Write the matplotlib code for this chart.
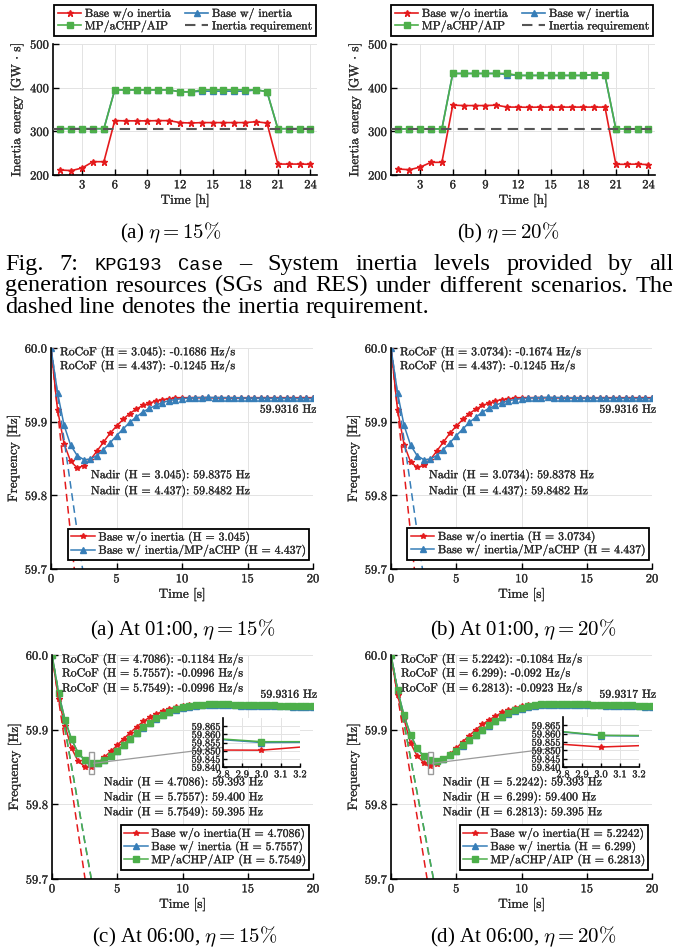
import numpy as np
import matplotlib
matplotlib.use("Agg")
import matplotlib.pyplot as plt
import matplotlib.patheffects as pe
from matplotlib.text import Text
from matplotlib.patches import Rectangle, ConnectionPatch

plt.rcParams.update({
    "font.family": ["cmr10", "DejaVu Serif"],
    "mathtext.fontset": "cm",
    "axes.formatter.use_mathtext": True,
    "axes.unicode_minus": False,
})

# ---------------- data: inertia energy (GW*s) per hour ----------------
hours = list(range(1, 25))
inertia15_base_wo = [211.5, 210, 216, 230.5, 230.5, 324.5, 324, 324, 324, 324.5, 324.5, 320,
                     319, 320, 320, 320, 320, 320, 322, 319, 225, 225, 225, 224.5]
inertia15_base_w = [306, 306, 306, 306, 306, 395, 395, 395, 395, 395, 395, 390.5,
                    390.5, 392, 392, 392, 392, 392, 395, 391, 306, 306, 306, 306]
inertia15_mp = [306, 306, 306, 306, 306, 395, 395, 395, 395, 395, 395, 390.5,
                390.5, 395, 395, 395, 395, 395, 395, 391, 306, 306, 306, 306]
inertia20_base_wo = [213.8, 212, 218, 229, 229, 360, 359, 359, 359, 360, 355.5, 355.5,
                     355, 355.5, 355.5, 355.5, 355.5, 355.5, 355.5, 355.5, 224.5, 224.5, 225, 223.7]
inertia20_base_w = [305.5, 305.5, 305.5, 305.5, 305.5, 432.5, 432.5, 432.5, 432.5, 432.5, 430, 428,
                    428, 428, 428, 428, 428, 428, 430, 428, 305.5, 305.5, 305.5, 305.5]
inertia20_mp = [305.5, 305.5, 305.5, 305.5, 305.5, 432.5, 432.5, 432.5, 432.5, 432.5, 432.5, 428,
                428, 428, 428, 428, 428, 428, 430, 428, 305.5, 305.5, 305.5, 305.5]
inertia_req = [305, 305]

# ---------------- data: frequency responses (Hz), sampled every 0.5 s ----------------
t_s = np.arange(0, 20.5, 0.5)

f01_15_red = [60.0, 59.916, 59.870, 59.846, 59.8375, 59.840, 59.848, 59.860, 59.872, 59.884,
              59.894, 59.903, 59.911, 59.917, 59.922, 59.925, 59.928, 59.930, 59.931, 59.9318,
              59.9322, 59.9325, 59.9326, 59.9326, 59.9325, 59.9324, 59.9323, 59.9322, 59.9321, 59.932,
              59.932, 59.9319, 59.9318, 59.9318, 59.9317, 59.9317, 59.9317, 59.9316, 59.9316, 59.9316, 59.9316]
f01_15_blue = [60.0, 59.939, 59.895, 59.868, 59.854, 59.8485, 59.849, 59.854, 59.862, 59.871,
               59.881, 59.890, 59.899, 59.906, 59.913, 59.918, 59.922, 59.926, 59.9285, 59.930,
               59.9312, 59.932, 59.9326, 59.9328, 59.9329, 59.9328, 59.9327, 59.9326, 59.9325, 59.9324,
               59.9322, 59.9321, 59.932, 59.9319, 59.9318, 59.9318, 59.9317, 59.9317, 59.9316, 59.9316, 59.9316]
f01_20_red = [60.0, 59.9165, 59.869, 59.8455, 59.8378, 59.8405, 59.848, 59.860, 59.872, 59.884,
              59.894, 59.903, 59.911, 59.917, 59.922, 59.925, 59.928, 59.930, 59.931, 59.9318,
              59.9322, 59.9325, 59.9326, 59.9326, 59.9325, 59.9324, 59.9323, 59.9322, 59.9321, 59.932,
              59.932, 59.9319, 59.9318, 59.9318, 59.9317, 59.9317, 59.9317, 59.9316, 59.9316, 59.9316, 59.9316]
f01_20_blue = [60.0, 59.939, 59.895, 59.868, 59.854, 59.8485, 59.849, 59.854, 59.862, 59.871,
               59.881, 59.890, 59.899, 59.906, 59.913, 59.918, 59.922, 59.926, 59.9285, 59.930,
               59.9312, 59.932, 59.9326, 59.9328, 59.9329, 59.9328, 59.9327, 59.9326, 59.9325, 59.9324,
               59.9322, 59.9321, 59.932, 59.9319, 59.9318, 59.9318, 59.9317, 59.9317, 59.9316, 59.9316, 59.9316]

f06_15_red = [60.0, 59.941, 59.905, 59.875, 59.858, 59.8505, 59.8503, 59.855, 59.863, 59.871,
              59.879, 59.888, 59.896, 59.904, 59.911, 59.917, 59.921, 59.925, 59.928, 59.930,
              59.9315, 59.9325, 59.933, 59.9333, 59.9334, 59.9334, 59.9333, 59.9332, 59.9331, 59.933,
              59.9328, 59.9327, 59.9325, 59.9324, 59.9322, 59.9321, 59.932, 59.9319, 59.9318, 59.9317, 59.9316]
f06_15_blue = [60.0, 59.949, 59.913, 59.887, 59.869, 59.8593, 59.855, 59.8553, 59.8588, 59.8648,
               59.8718, 59.8798, 59.8878, 59.8955, 59.9025, 59.9085, 59.914, 59.919, 59.923, 59.9268,
               59.9295, 59.931, 59.932, 59.9326, 59.9329, 59.9329, 59.9328, 59.9326, 59.9324, 59.9322,
               59.932, 59.9318, 59.9316, 59.9315, 59.9313, 59.9312, 59.9311, 59.931, 59.9309, 59.9308, 59.9308]
f06_15_green = [60.0, 59.949, 59.913, 59.887, 59.869, 59.8595, 59.8555, 59.8555, 59.859, 59.865,
                59.872, 59.880, 59.888, 59.896, 59.903, 59.909, 59.915, 59.920, 59.924, 59.928,
                59.9305, 59.932, 59.933, 59.9337, 59.934, 59.934, 59.934, 59.9338, 59.9336, 59.9334,
                59.9332, 59.933, 59.9328, 59.9326, 59.9324, 59.9322, 59.932, 59.9319, 59.9318, 59.9317, 59.9316]

f06_20_red = [60.0, 59.946, 59.914, 59.882, 59.865, 59.856, 59.852, 59.854, 59.860, 59.867,
              59.875, 59.884, 59.892, 59.900, 59.907, 59.913, 59.918, 59.923, 59.926, 59.929,
              59.9315, 59.9327, 59.9333, 59.9336, 59.9337, 59.9337, 59.9336, 59.9335, 59.9333, 59.9331,
              59.933, 59.9328, 59.9326, 59.9324, 59.9323, 59.9321, 59.932, 59.9319, 59.9318, 59.9317, 59.9317]
f06_20_blue = [60.0, 59.953, 59.919, 59.893, 59.875, 59.8643, 59.8588, 59.8583, 59.8607, 59.8655,
               59.8715, 59.8785, 59.8855, 59.8925, 59.8995, 59.9055, 59.9113, 59.9163, 59.921, 59.925,
               59.928, 59.9303, 59.932, 59.933, 59.9335, 59.9337, 59.9337, 59.9336, 59.9334, 59.9332,
               59.933, 59.9327, 59.9325, 59.9322, 59.932, 59.9318, 59.9316, 59.9314, 59.9312, 59.931, 59.9309]
f06_20_green = [60.0, 59.953, 59.919, 59.893, 59.875, 59.8645, 59.859, 59.8585, 59.861, 59.866,
                59.872, 59.879, 59.886, 59.893, 59.900, 59.906, 59.912, 59.917, 59.922, 59.926,
                59.929, 59.9315, 59.933, 59.934, 59.9345, 59.9347, 59.9347, 59.9346, 59.9344, 59.9342,
                59.934, 59.9337, 59.9335, 59.9332, 59.933, 59.9328, 59.9326, 59.9324, 59.9322, 59.932, 59.9318]

rocof01_15 = [-0.1686, -0.1245]
rocof01_20 = [-0.1674, -0.1245]
rocof06_15 = [-0.1184, -0.0996, -0.0996]
rocof06_20 = [-0.1084, -0.092, -0.0923]

# ---------------- style ----------------
W, H = 678, 952
fig = plt.figure(figsize=(W / 100, H / 100), dpi=100)
RED, BLUE, GREEN = "#E41A1C", "#377EB8", "#4DAF4A"
TXT = "#2b2b2b"
FS_TICK, FS_LAB, FS_LEG, FS_ANN = 9, 9.5, 8.5, 8.5


def px_axes(x0, y0, x1, y1, **kw):
    return fig.add_axes([x0 / W, 1 - y1 / H, (x1 - x0) / W, (y1 - y0) / H], **kw)


def style_axes(ax, labelsize=FS_TICK):
    for s in ("top", "right"):
        ax.spines[s].set_visible(False)
    for s in ("left", "bottom"):
        ax.spines[s].set_color("black")
        ax.spines[s].set_linewidth(1.2)
    ax.grid(True, color="#e3e3e3", lw=0.7)
    ax.set_axisbelow(True)
    ax.tick_params(direction="in", length=4, width=1, color="black",
                   labelsize=labelsize, labelcolor=TXT, pad=3)


def fig_pt(x, y):
    return (x / W, 1 - y / H)


# ---------------- top inertia panels ----------------
def inertia_panel(box, red, blue, green, leg_center):
    ax = px_axes(*box)
    style_axes(ax)
    l1, = ax.plot(hours, red, color=RED, marker="*", ms=4.5, lw=1.2, label="Base w/o inertia")
    l2, = ax.plot(hours, blue, color=BLUE, marker="^", ms=4.5, lw=1.2, label="Base w/ inertia")
    l3, = ax.plot(hours, green, color=GREEN, marker="s", ms=4.8, lw=1.2, label="MP/aCHP/AIP")
    l4 = ax.axhline(inertia_req[0], color="#555555", lw=1.5, ls=(0, (5, 3)), zorder=5,
                    label="Inertia requirement")
    ax.set_xlim(0.32, 24.6)
    ax.set_ylim(200, 500)
    ax.set_xticks([3, 6, 9, 12, 15, 18, 21, 24], labels=["3", "6", "9", "12", "15", "18", "21", "24"])
    ax.set_yticks([200, 300, 400, 500], labels=["200", "300", "400", "500"])
    ax.set_xlabel("Time [h]", fontsize=FS_LAB, color=TXT, labelpad=2)
    ax.set_ylabel(r"Inertia energy [GW $\cdot$ s]", fontsize=FS_LAB, color=TXT, labelpad=3)
    leg = ax.legend(handles=[l1, l3, l2, l4], ncol=2, loc="center",
                    bbox_to_anchor=fig_pt(*leg_center), bbox_transform=fig.transFigure,
                    fontsize=FS_LEG, frameon=True, fancybox=False, framealpha=1,
                    edgecolor="black", borderpad=0.3, labelspacing=0.1, handlelength=2.0,
                    handletextpad=0.3, columnspacing=1.2)
    leg.get_frame().set_linewidth(1.3)
    for t in leg.get_texts():
        t.set_color(TXT)
    return ax


inertia_panel((53, 44, 317, 175), inertia15_base_wo, inertia15_base_w, inertia15_mp, (185, 20.5))
inertia_panel((391, 44, 655, 175), inertia20_base_wo, inertia20_base_w, inertia20_mp, (522, 20.5))


# ---------------- frequency panels ----------------
def freq_panel(box, curves, rocof_lines, rocof_xy, final_text, final_xy, nadir_lines, nadir_xy,
               leg_center, inset_box=None):
    ax = px_axes(*box)
    style_axes(ax)
    handles = []
    for vals, color, marker, ms, label, rocof in curves:
        h, = ax.plot(t_s, vals, color=color, marker=marker, ms=ms, lw=1.1, label=label)
        handles.append(h)
    for vals, color, marker, ms, label, rocof in curves:
        t_end = 0.32 / abs(rocof)
        ax.plot([0, t_end], [60.0, 60.0 + rocof * t_end], color=color, ls=(0, (5, 3)), lw=1.1)
    ax.set_xlim(0, 20)
    ax.set_ylim(59.7, 60.0)
    ax.set_xticks([0, 5, 10, 15, 20], labels=["0", "5", "10", "15", "20"])
    ax.set_yticks([59.7, 59.8, 59.9, 60.0], labels=["59.7", "59.8", "59.9", "60.0"])
    ax.set_xlabel("Time [s]", fontsize=FS_LAB, color=TXT, labelpad=2)
    ax.set_ylabel("Frequency [Hz]", fontsize=FS_LAB, color=TXT, labelpad=3)
    for txt, y in zip(rocof_lines, rocof_xy[1]):
        ax.text(rocof_xy[0], y, txt, fontsize=FS_ANN, color=TXT, ha="left", va="center")
    ax.text(final_xy[0], final_xy[1], final_text, fontsize=FS_ANN, color=TXT, ha="right", va="center")
    for txt, y in zip(nadir_lines, nadir_xy[1]):
        ax.text(nadir_xy[0], y, txt, fontsize=FS_ANN, color=TXT, ha="left", va="center")
    leg = ax.legend(handles=handles, loc="center", bbox_to_anchor=fig_pt(*leg_center),
                    bbox_transform=fig.transFigure, fontsize=FS_LEG, frameon=True, fancybox=False,
                    framealpha=1, edgecolor="black", borderpad=0.3, labelspacing=0.15,
                    handlelength=2.0, handletextpad=0.3)
    leg.get_frame().set_linewidth(1.3)
    leg.set_zorder(10)
    for t in leg.get_texts():
        t.set_color(TXT)
    if inset_box is not None:
        ax.add_patch(Rectangle((2.8, 59.84), 0.4, 0.03, fill=False, ec="#9a9a9a", lw=1.0, zorder=6))
        axin = px_axes(*inset_box, zorder=4)
        style_axes(axin, labelsize=7.5)
        axin.tick_params(length=3, pad=2)
        for vals, color, marker, ms, label, rocof in curves:
            axin.plot(t_s, vals, color=color, marker=marker, ms=ms, lw=1.1)
        axin.set_xlim(2.8, 3.2)
        axin.set_ylim(59.84, 59.87)
        axin.set_xticks([2.8, 2.9, 3.0, 3.1, 3.2], labels=["2.8", "2.9", "3.0", "3.1", "3.2"])
        yt = [59.840, 59.845, 59.850, 59.855, 59.860, 59.865]
        axin.set_yticks(yt, labels=["%.3f" % v for v in yt])
        con = ConnectionPatch(xyA=(3.2, 59.855), coordsA=ax.transData, xyB=(0, 0.4),
                              coordsB=axin.transAxes, color="#9a9a9a", lw=0.9, zorder=2)
        fig.add_artist(con)
    return ax


freq_panel((51, 348, 313, 569),
           [(f01_15_red, RED, "*", 4.0, "Base w/o inertia (H = 3.045)", rocof01_15[0]),
            (f01_15_blue, BLUE, "^", 4.2, "Base w/ inertia/MP/aCHP (H = 4.437)", rocof01_15[1])],
           ["RoCoF (H = 3.045): -0.1686 Hz/s", "RoCoF (H = 4.437): -0.1245 Hz/s"],
           (0.69, [59.9936, 59.9747]), "59.9316 Hz", (20.25, 59.916),
           ["Nadir (H = 3.045): 59.8375 Hz", "Nadir (H = 4.437): 59.8482 Hz"],
           (3.05, [59.8267, 59.805]), (188.5, 544.5))

freq_panel((391, 348, 652, 569),
           [(f01_20_red, RED, "*", 4.0, "Base w/o inertia (H = 3.0734)", rocof01_20[0]),
            (f01_20_blue, BLUE, "^", 4.2, "Base w/ inertia/MP/aCHP (H = 4.437)", rocof01_20[1])],
           ["RoCoF (H = 3.0734): -0.1674 Hz/s", "RoCoF (H = 4.437): -0.1245 Hz/s"],
           (0.69, [59.9936, 59.9747]), "59.9316 Hz", (20.3, 59.916),
           ["Nadir (H = 3.0734): 59.8378 Hz", "Nadir (H = 4.437): 59.8482 Hz"],
           (2.91, [59.8267, 59.805]), (528, 544))

freq_panel((52, 655, 313, 879),
           [(f06_15_red, RED, "*", 4.0, "Base w/o inertia(H = 4.7086)", rocof06_15[0]),
            (f06_15_blue, BLUE, "^", 4.2, "Base w/ inertia (H = 5.7557)", rocof06_15[1]),
            (f06_15_green, GREEN, "s", 4.0, "MP/aCHP/AIP (H = 5.7549)", rocof06_15[2])],
           ["RoCoF (H = 4.7086): -0.1184 Hz/s", "RoCoF (H = 5.7557): -0.0996 Hz/s",
            "RoCoF (H = 5.7549): -0.0996 Hz/s"],
           (0.77, [59.9933, 59.9746, 59.9545]), "59.9316 Hz", (20.3, 59.9465),
           ["Nadir (H = 4.7086): 59.393 Hz", "Nadir (H = 5.7557): 59.400 Hz",
            "Nadir (H = 5.7549): 59.395 Hz"],
           (3.98, [59.8288, 59.8087, 59.7887]), (215, 847.5), inset_box=(223, 718, 300, 767))

freq_panel((391, 655, 652, 879),
           [(f06_20_red, RED, "*", 4.0, "Base w/o inertia(H = 5.2242)", rocof06_20[0]),
            (f06_20_blue, BLUE, "^", 4.2, "Base w/ inertia (H = 6.299)", rocof06_20[1]),
            (f06_20_green, GREEN, "s", 4.0, "MP/aCHP/AIP (H = 6.2813)", rocof06_20[2])],
           ["RoCoF (H = 5.2242): -0.1084 Hz/s", "RoCoF (H = 6.299): -0.092 Hz/s",
            "RoCoF (H = 6.2813): -0.0923 Hz/s"],
           (0.77, [59.9933, 59.9746, 59.9545]), "59.9317 Hz", (20.3, 59.9465),
           ["Nadir (H = 5.2242): 59.393 Hz", "Nadir (H = 6.299): 59.400 Hz",
            "Nadir (H = 6.2813): 59.395 Hz"],
           (3.98, [59.8288, 59.8087, 59.7887]), (554, 847.5), inset_box=(563, 717, 639, 767))

# thicken the thin Computer Modern strokes of the plot texts a little
for txt in fig.findobj(Text):
    if txt.get_text():
        txt.set_path_effects([pe.withStroke(linewidth=0.2, foreground=txt.get_color())])

# ---------------- sub-captions ----------------
SUB = dict(family=["Liberation Serif", "DejaVu Serif"], fontsize=15, math_fontfamily="cm",
           ha="center", va="center", color="black")
fig.text(*fig_pt(171, 233), r"(a) $\eta = 15\%$", **SUB)
fig.text(*fig_pt(508, 233), r"(b) $\eta = 20\%$", **SUB)
fig.text(*fig_pt(183, 630), r"(a) At 01:00, $\eta = 15\%$", **SUB)
fig.text(*fig_pt(523, 630), r"(b) At 01:00, $\eta = 20\%$", **SUB)
fig.text(*fig_pt(185, 937), r"(c) At 06:00, $\eta = 15\%$", **SUB)
fig.text(*fig_pt(523, 937), r"(d) At 06:00, $\eta = 20\%$", **SUB)

# ---------------- justified figure caption ----------------
CAP_SIZE, MONO_SIZE = 17.5, 13.5
renderer = fig.canvas.get_renderer()


def caption_line(words, base_y, x0=5, x1=673, justify=True):
    objs = []
    for w, kind in words:
        if kind == "m":
            kw = dict(family=["Liberation Mono", "DejaVu Sans Mono"], fontsize=MONO_SIZE)
        else:
            kw = dict(family=["Liberation Serif", "DejaVu Serif"], fontsize=CAP_SIZE)
        objs.append(fig.text(0, 1 - base_y / H, w, ha="left", va="baseline", color="black", **kw))
    widths = [o.get_window_extent(renderer).width for o in objs]
    gap = (x1 - x0 - sum(widths)) / (len(objs) - 1) if justify else 0.25 * CAP_SIZE * 100 / 72
    x = x0
    for o, w in zip(objs, widths):
        o.set_x(x / W)
        x += w + gap


line1 = [("Fig.", "s"), ("7:", "s"), ("KPG193", "m"), ("Case", "m"), ("\u2013", "s"), ("System", "s"),
         ("inertia", "s"), ("levels", "s"), ("provided", "s"), ("by", "s"), ("all", "s")]
line2 = [(w, "s") for w in "generation resources (SGs and RES) under different scenarios. The".split()]
line3 = [(w, "s") for w in "dashed line denotes the inertia requirement.".split()]
caption_line(line1, 270)
caption_line(line2, 291.5)
caption_line(line3, 313, justify=False)

fig.savefig("out.png", dpi=100)
